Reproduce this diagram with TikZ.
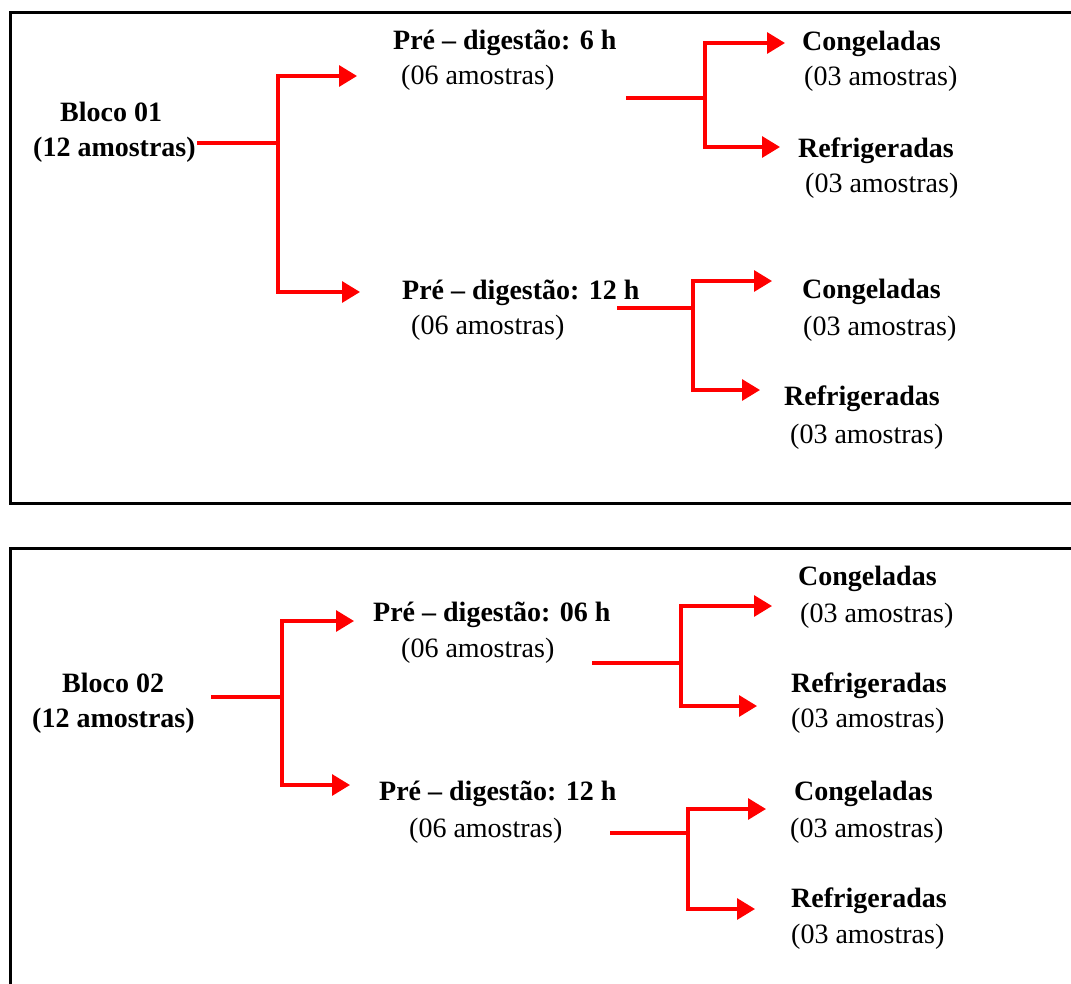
\documentclass[tikz,border=0pt]{standalone}
\usepackage{fontspec}
\setmainfont{Liberation Serif}
\usetikzlibrary{arrows.meta}
\begin{document}
\begin{tikzpicture}[x=1pt,y=-1pt,
  lbl/.style={anchor=base west, inner sep=0pt, font=\fontsize{28}{34}\selectfont},
  blbl/.style={anchor=base west, inner sep=0pt, font=\fontsize{28}{34}\selectfont\bfseries},
  conn/.style={draw=red, line width=3.2pt, line join=miter},
  arr/.style={conn, -{Triangle[length=18pt,width=21pt]}},
  frame/.style={draw=black, line width=3pt}]
\useasboundingbox (0,0) rectangle (1071,983);
\clip (0,0) rectangle (1071,983);
% frames
\draw[frame] (10,12) rectangle (1090,503);
\draw[frame] (10,548) rectangle (1090,1000);

% ---------- Block 1 ----------
\node[blbl] (b1a) at (60,121) {Bloco 01};
\node[blbl] (b1b) at (33,156) {(12 amostras)};
\node[blbl] (p1a) at (393,49) {Pré – digestão: 6 h};
\node[lbl]  (p1b) at (401,84) {(06 amostras)};
\node[blbl] (p2a) at (402,299) {Pré – digestão: 12 h};
\node[lbl]  (p2b) at (411,334) {(06 amostras)};
\node[blbl] (c1a) at (802,50) {Congeladas};
\node[lbl]  (c1b) at (804,85) {(03 amostras)};
\node[blbl] (r1a) at (798,157) {Refrigeradas};
\node[lbl]  (r1b) at (805,192) {(03 amostras)};
\node[blbl] (c2a) at (802,298) {Congeladas};
\node[lbl]  (c2b) at (803,335) {(03 amostras)};
\node[blbl] (r2a) at (784,405) {Refrigeradas};
\node[lbl]  (r2b) at (790,443) {(03 amostras)};

\coordinate (s0) at (197,143);
\coordinate (j0) at (278,143);
\coordinate (a0u) at (357,76);
\coordinate (a0d) at (360,292);
\coordinate (s1) at (626,98);
\coordinate (j1) at (705,98);
\coordinate (a1u) at (785,43);
\coordinate (a1d) at (780,147);
\coordinate (s2) at (617,308);
\coordinate (j2) at (693,308);
\coordinate (a2u) at (772,281);
\coordinate (a2d) at (760,390);

\draw[conn] (s0) -- (j0);
\draw[arr] (j0) |- (a0u);
\draw[arr] (j0) |- (a0d);
\draw[conn, line width=4pt] (s1) -- (j1);
\draw[arr] (j1) |- (a1u);
\draw[arr] (j1) |- (a1d);
\draw[conn] (s2) -- (j2);
\draw[arr] (j2) |- (a2u);
\draw[arr] (j2) |- (a2d);

% ---------- Block 2 ----------
\node[blbl] (b2a) at (62,692) {Bloco 02};
\node[blbl] (b2b) at (32,727) {(12 amostras)};
\node[blbl] (p3a) at (373,621) {Pré – digestão: 06 h};
\node[lbl]  (p3b) at (401,657) {(06 amostras)};
\node[blbl] (p4a) at (379,800) {Pré – digestão: 12 h};
\node[lbl]  (p4b) at (409,837) {(06 amostras)};
\node[blbl] (c3a) at (798,585) {Congeladas};
\node[lbl]  (c3b) at (800,622) {(03 amostras)};
\node[blbl] (r3a) at (791,692) {Refrigeradas};
\node[lbl]  (r3b) at (791,727) {(03 amostras)};
\node[blbl] (c4a) at (794,800) {Congeladas};
\node[lbl]  (c4b) at (790,837) {(03 amostras)};
\node[blbl] (r4a) at (791,907) {Refrigeradas};
\node[lbl]  (r4b) at (791,943) {(03 amostras)};

\coordinate (s3) at (211,697);
\coordinate (j3) at (282,697);
\coordinate (a3u) at (354,621);
\coordinate (a3d) at (350,785);
\coordinate (s4) at (592,663);
\coordinate (j4) at (681,663);
\coordinate (a4u) at (772,606);
\coordinate (a4d) at (757,706);
\coordinate (s5) at (610,833);
\coordinate (j5) at (688,833);
\coordinate (a5u) at (766,809);
\coordinate (a5d) at (755,909);

\draw[conn] (s3) -- (j3);
\draw[arr] (j3) |- (a3u);
\draw[arr] (j3) |- (a3d);
\draw[conn] (s4) -- (j4);
\draw[arr] (j4) |- (a4u);
\draw[arr] (j4) |- (a4d);
\draw[conn] (s5) -- (j5);
\draw[arr] (j5) |- (a5u);
\draw[arr] (j5) |- (a5d);
\end{tikzpicture}
\end{document}
